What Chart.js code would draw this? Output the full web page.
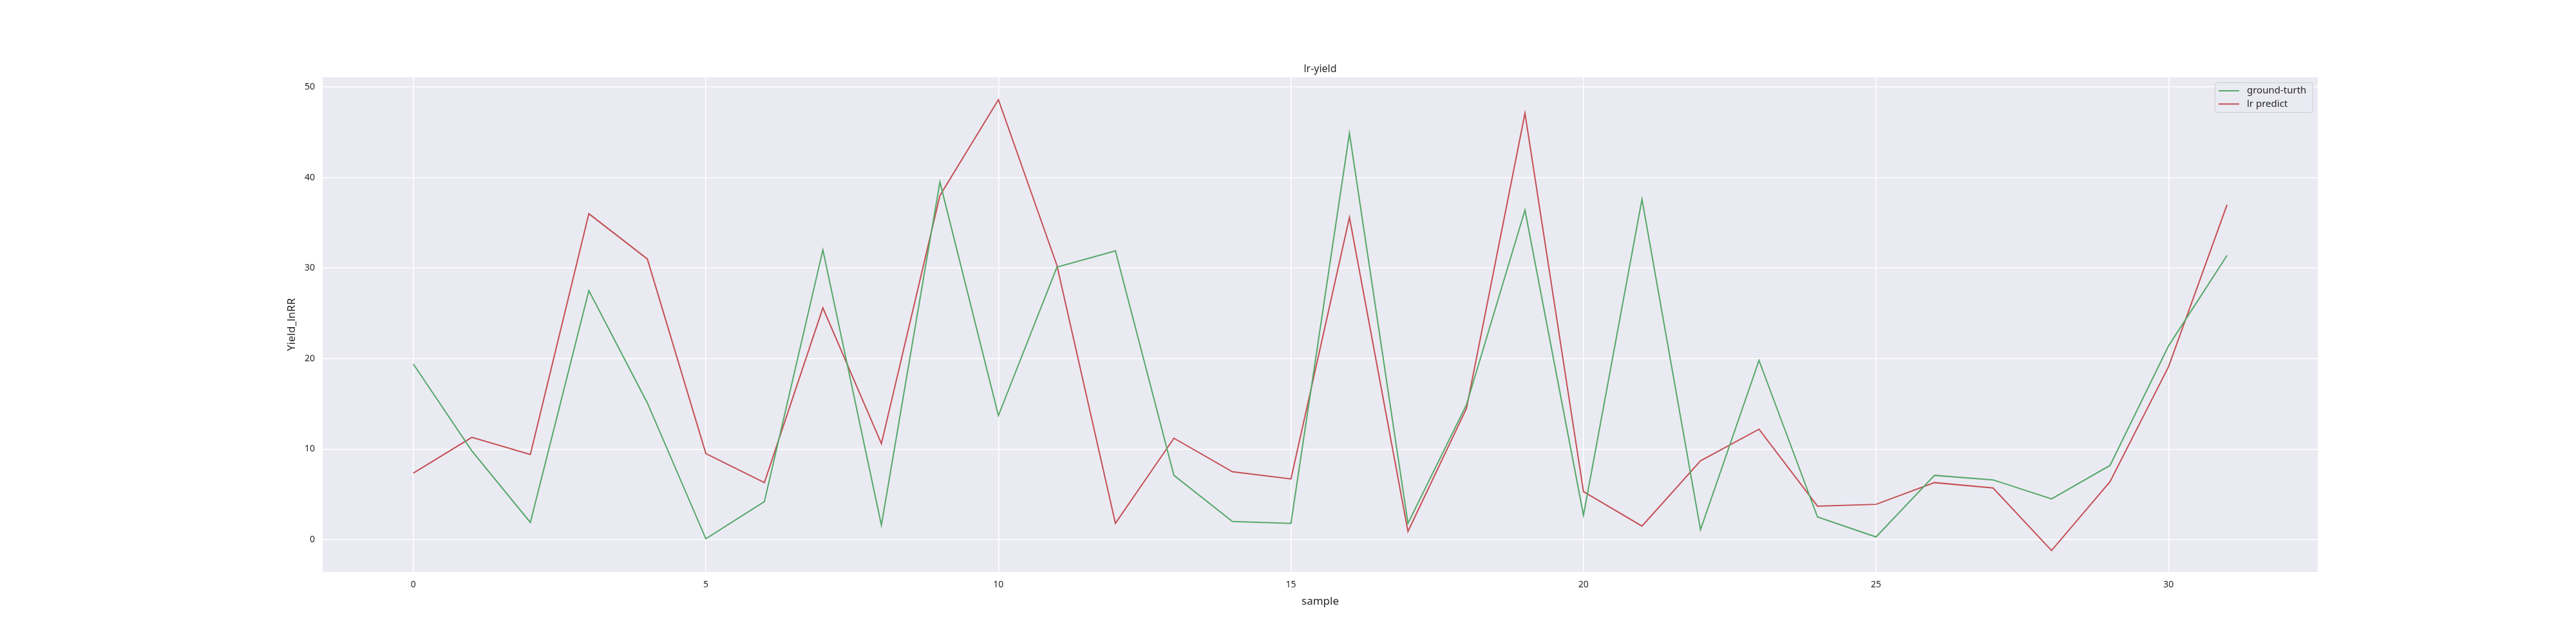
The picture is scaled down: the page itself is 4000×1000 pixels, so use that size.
<!DOCTYPE html>
<html>
<head>
<meta charset="utf-8">
<script src="https://cdn.jsdelivr.net/npm/chart.js@4"></script>
<style>
  html, body { margin: 0; padding: 0; background: #fff; }
  #wrap { width: 4000px; height: 1000px; }
</style>
</head>
<body>
<div id="wrap"><canvas id="c" width="4000" height="1000"></canvas></div>
<script>
// values
const samples = [...Array(32).keys()];
const groundTruth = [19.4, 9.8, 1.9, 27.5, 15.1, 0.1, 4.2, 32.0, 1.6, 39.5, 13.7,
  30.1, 31.9, 7.1, 2.0, 1.8, 44.9, 1.8, 14.9, 36.4, 2.7, 37.6, 1.1, 19.8, 2.5,
  0.3, 7.1, 6.6, 4.5, 8.2, 21.4, 31.4];
const lrPredict = [7.35, 11.3, 9.4, 36.0, 31.0, 9.5, 6.3, 25.6, 10.6, 38.0, 48.6,
  30.3, 1.8, 11.2, 7.5, 6.7, 35.6, 0.9, 14.5, 47.1, 5.3, 1.5, 8.7, 12.2, 3.7,
  3.9, 6.3, 5.7, -1.2, 6.4, 19.1, 37.0];
const xTicks = [0, 5, 10, 15, 20, 25, 30];
const yTicks = [0, 10, 20, 30, 40, 50];

const FONT = 'Noto Sans';
const GREEN = '#55a868';
const RED = '#c44e52';

// seaborn-like background, title, axis labels and legend
Chart.register({
  id: 'seabornDeco',
  beforeDraw(chart) {
    const { ctx, chartArea: a } = chart;
    ctx.save();
    ctx.fillStyle = '#eaeaf2';
    ctx.fillRect(a.left, a.top, a.right - a.left, a.bottom - a.top);
    ctx.restore();
  },
  afterDraw(chart) {
    const { ctx, chartArea: a } = chart;
    const cx = (a.left + a.right) / 2;
    ctx.save();
    ctx.fillStyle = '#262626';
    ctx.font = `16px "${FONT}"`;
    ctx.textAlign = 'center';
    ctx.textBaseline = 'alphabetic';
    ctx.fillText('lr-yield', cx, a.top - 8);

    ctx.font = `17px "${FONT}"`;
    ctx.textBaseline = 'middle';
    ctx.fillText('sample', cx, 934);
    ctx.save();
    ctx.translate(453, (a.top + a.bottom) / 2);
    ctx.rotate(-Math.PI / 2);
    ctx.fillText('Yield_lnRR', 0, 0);
    ctx.restore();

    // legend
    const w = 152, h = 46, x = a.right - w - 8, y = a.top + 8;
    ctx.fillStyle = 'rgba(234,234,242,0.8)';
    ctx.strokeStyle = '#cccccc';
    ctx.lineWidth = 1;
    ctx.beginPath();
    ctx.roundRect(x + 0.5, y + 0.5, w, h, 3);
    ctx.fill();
    ctx.stroke();
    ctx.font = `15px "${FONT}"`;
    ctx.textAlign = 'left';
    chart.data.datasets.forEach((ds, i) => {
      const ly = y + 13 + i * 20.5;
      ctx.strokeStyle = ds.borderColor;
      ctx.lineWidth = 2;
      ctx.beginPath();
      ctx.moveTo(x + 6, ly);
      ctx.lineTo(x + 38, ly);
      ctx.stroke();
      ctx.fillStyle = '#262626';
      ctx.fillText(ds.label, x + 50, ly);
    });
    ctx.restore();
  },
});

new Chart(document.getElementById('c'), {
  type: 'line',
  data: {
    datasets: [
      {
        label: 'ground-turth',
        data: samples.map((s, i) => ({ x: s, y: groundTruth[i] })),
        borderColor: GREEN,
        borderWidth: 2,
        pointRadius: 0,
        tension: 0,
      },
      {
        label: 'lr predict',
        data: samples.map((s, i) => ({ x: s, y: lrPredict[i] })),
        borderColor: RED,
        borderWidth: 2,
        pointRadius: 0,
        tension: 0,
      },
    ],
  },
  options: {
    responsive: false,
    animation: false,
    layout: { padding: { top: 120, right: 401, left: 0, bottom: 0 } },
    plugins: { legend: { display: false }, title: { display: false }, tooltip: { enabled: false } },
    scales: {
      x: {
        type: 'linear',
        min: -1.55,
        max: 32.55,
        afterBuildTicks(scale) { scale.ticks = xTicks.map(v => ({ value: v })); },
        afterFit(scale) { scale.height = 112; },
        grid: { color: '#ffffff', lineWidth: 1.5, drawTicks: false },
        border: { display: false },
        ticks: { color: '#262626', font: { family: FONT, size: 14 }, padding: 12 },
      },
      y: {
        min: -3.56,
        max: 51.07,
        afterBuildTicks(scale) { scale.ticks = yTicks.map(v => ({ value: v })); },
        afterFit(scale) { scale.width = 501; },
        grid: { color: '#ffffff', lineWidth: 1.5, drawTicks: false },
        border: { display: false },
        ticks: { color: '#262626', font: { family: FONT, size: 14 }, padding: 12 },
      },
    },
  },
});
</script>
</body>
</html>
